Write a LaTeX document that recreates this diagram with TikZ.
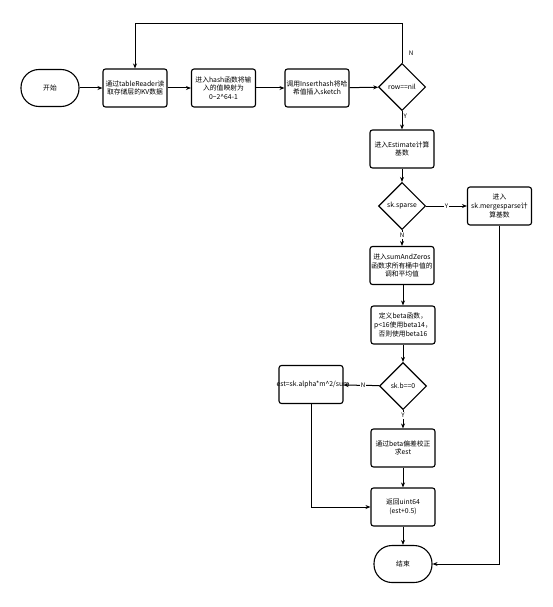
\documentclass[tikz,border=0pt]{standalone}
\usepackage{fontspec}
\newfontfamily\cjk{Noto Sans CJK SC}
\usetikzlibrary{shapes.geometric,arrows.meta}
\begin{document}
\begin{tikzpicture}
[x=1pt,y=-1pt,
  stepbox/.style={shape=rectangle,draw,line width=1.1pt,rounded corners=2.5pt,
    minimum width=64pt,minimum height=38pt,inner sep=1pt,
    align=center,font=\cjk\fontsize{6.8}{8.6}\selectfont},%
  termdecorate/.style={shape=rectangle,draw,line width=1.1pt,rounded corners=18pt,
    minimum width=58pt,minimum height=37pt,font=\cjk\fontsize{6.8}{8.6}\selectfont},%
  choicedecorate/.style={shape=diamond,draw,line width=1.1pt,aspect=1,inner sep=0pt,
    minimum width=47pt,minimum height=47pt,font=\cjk\fontsize{6.8}{8.6}\selectfont},%
  linedecorate/.style={-{Stealth[length=5pt,width=4pt]},line width=1pt},%
  tagdecorate/.style={font=\cjk\fontsize{6.2}{7}\selectfont,inner sep=1pt}]
\useasboundingbox (0,0) rectangle (552,607);
%%% first row
% nodes
\node (start) at (50,88) [termdecorate] {开始};
\node (read) at (135,88) [stepbox] {通过tableReader读\\取存储层的KV数据};
\node (hash) at (223.5,88) [stepbox] {进入hash函数将输\\入的值映射为\\0\textasciitilde2\textasciicircum64-1};
\node (insert) at (317,88) [stepbox] {调用Inserthash将哈\\希值插入sketch};
\node (rownil) at (402,87) [choicedecorate] {row==nil};
\coordinate (loop) at (402,24);
% edges
\path
(start) edge[linedecorate] (read)
(read) edge[linedecorate] (hash)
(hash) edge[linedecorate] (insert)
(insert) edge[linedecorate] (rownil);
\draw[linedecorate] (rownil.north) -- (loop) -| (read.north);
\node[tagdecorate] at (411,53) {N};
%
%%% main column
% nodes
\node (estimate) at (402,149) [stepbox] {进入Estimate计算\\基数};
\node (sparse) at (402,206) [choicedecorate] {sk.sparse};
\node (merge) at (499.5,206) [stepbox] {进入\\sk.mergesparse计\\算基数};
\node (sumzero) at (402,265.5) [stepbox] {进入sumAndZeros\\函数求所有桶中值的\\调和平均值};
\node (beta) at (403,325) [stepbox] {定义beta函数，\\p\textless16使用beta14，\\否则使用beta16};
\node (skb) at (403,386) [choicedecorate] {sk.b==0};
\node (est) at (311,384.5) [stepbox,
  label={[font=\cjk\fontsize{6.8}{8.6}\selectfont,xshift=2pt]center:est=sk.alpha*m\textasciicircum2/sum}] {};
\node (correct) at (403,448) [stepbox] {通过beta偏差校正\\求est};
\node (ret) at (403,507) [stepbox] {返回uint64\\(est+0.5)};
\node (end) at (403,564) [termdecorate] {结束};
% edges
\path
(rownil) edge[linedecorate] node[tagdecorate,right,pos=0.3] {Y} (estimate)
(estimate) edge[linedecorate] (sparse)
(sparse) edge[linedecorate] node[tagdecorate,fill=white] {Y} (merge)
(sparse) edge[linedecorate] node[tagdecorate,fill=white,pos=0.35] {N} (sumzero)
(sumzero.south -| beta) edge[linedecorate] (beta)
(beta) edge[linedecorate] (skb)
(skb) edge[linedecorate] node[tagdecorate,fill=white,pos=0.45] {N} (est)
(skb) edge[linedecorate] node[tagdecorate,fill=white,pos=0.3] {Y} (correct)
(correct) edge[linedecorate] (ret)
(ret) edge[linedecorate] (end);
\draw[linedecorate] (est.south) |- (ret.west);
\draw[linedecorate] (merge.south) |- (end.east);
\end{tikzpicture}
\end{document}
